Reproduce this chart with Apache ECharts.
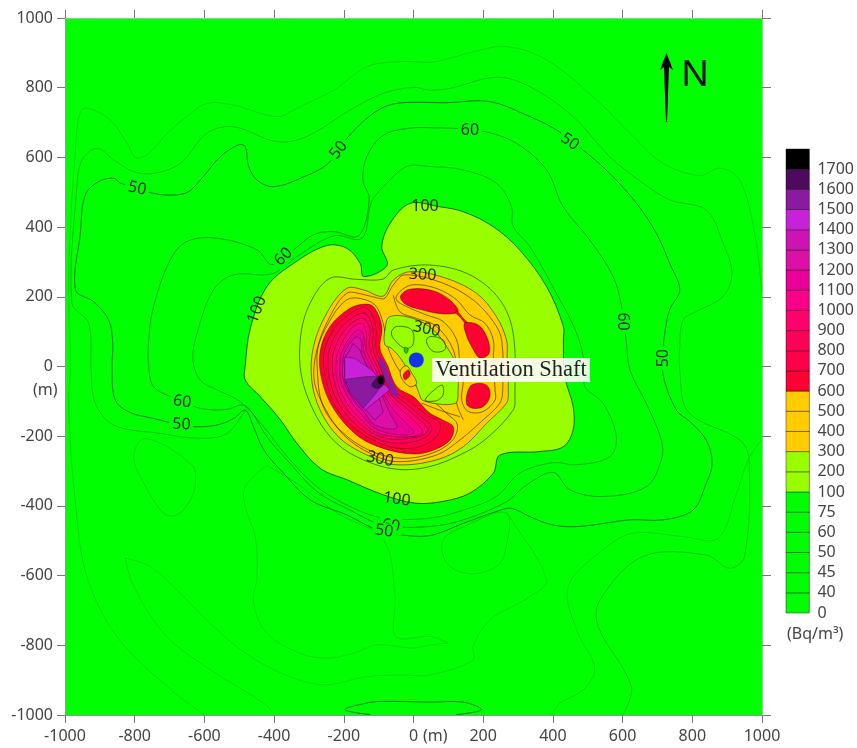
<!DOCTYPE html>
<html>
<head>
<meta charset="utf-8">
<script src="https://cdn.jsdelivr.net/npm/echarts@6/dist/echarts.min.js"></script>
<style>
html,body{margin:0;padding:0;background:#fff;}
#container_radon{width:857px;height:748px;filter:blur(0.35px);}
</style>
</head>
<body>
<div id="container_radon"></div>
<script>
// tick labels of the colour bar, bottom to top (Bq/m3)
var barLabels = ['0','40','45','50','60','75','100','200','300','400','500','600','700','800','900','1000','1100','1200','1300','1400','1500','1600','1700',''];
var barColors = ['#00ff00','#00ff00','#00ff00','#00ff00','#00ff00','#00ff00','#99ff00','#99ff00','#ffcc00','#ffcc00','#ffcc00','#ff0033','#ff0048','#ff0058','#ff006c','#fa0088','#e80099','#dc10a8','#cc14b4','#c822d8','#8a1aa0','#4e0a5e','#000000'];

// contours in metres
var c40a = [[-602,-999],[-707,-918],[-851,-775],[-937,-603],[-970,-392],[-989,-134],[-985,0],[-989,287],[-970,621],[-956,731],[-932,741],[-870,707],[-822,641],[-798,600],[-765,607],[-707,669],[-650,717],[-593,755],[-516,750],[-392,717],[-325,746],[-229,793],[-134,860],[-38,875],[47,873],[104,884],[171,903],[267,918],[382,880],[525,765],[621,669],[716,583],[821,548],[879,569],[936,535],[979,382],[1000,210]];
var c40b = [[998,-211],[960,-268],[927,-364],[874,-493],[774,-488],[630,-478],[544,-526],[444,-631],[468,-756],[520,-866],[487,-928],[420,-966],[396,-1000]];
var c40c = [[-827,-550],[-755,-574],[-679,-641],[-574,-746],[-468,-832],[-344,-894],[-249,-913],[-134,-890],[-38,-885],[48,-885],[171,-842],[171,-803],[219,-727],[334,-660],[382,-612],[276,-431],[267,-421]];
var c40d = [[-827,-550],[-803,-631],[-717,-765],[-612,-851],[-430,-966],[-402,-995]];
var c40e = [[-421,-284],[-483,-345],[-483,-402],[-454,-488],[-449,-603],[-459,-679],[-421,-765],[-325,-823],[-249,-837],[-172,-823],[-105,-799],[0,-808],[48,-799],[100,-794]];
var c40f = [[-421,-284],[-350,-325],[-220,-420],[-86,-498],[-53,-660],[-51,-775],[48,-775],[100,-794]];
var c40g = [[-770,-206],[-803,-259],[-774,-335],[-717,-421],[-679,-426],[-640,-383],[-626,-335],[-636,-282]];
var c40h = [[85,-498],[95,-564],[162,-595],[238,-574],[262,-536],[267,-421],[143,-460]];
var c45 = [[-483,-125],[-535,-192],[-612,-206],[-727,-192],[-860,-168],[-913,-106],[-925,-10],[-932,124],[-980,182],[-966,516],[-951,593],[-908,626],[-860,593],[-803,559],[-746,554],[-669,583],[-593,669],[-516,688],[-392,645],[-306,660],[-182,736],[-86,784],[0,801],[47,793],[104,798],[238,830],[334,803],[458,717],[563,602],[659,526],[735,478],[840,449],[888,354],[914,268],[888,201],[812,158],[774,134],[764,57],[764,-10],[788,-130],[936,-211],[963,-268],[950,-545],[907,-579],[840,-541],[659,-545],[535,-670],[530,-746],[625,-918],[601,-999]];
var c50 = [[-860,540],[-903,531],[-942,492],[-956,382],[-970,220],[-918,186],[-875,134],[-863,67],[-865,0],[-856,-96],[-813,-132],[-746,-149],[-669,-168],[-621,-173],[-564,-168],[-516,-149],[-483,-125],[-459,-173],[-430,-239],[-373,-306],[-296,-383],[-191,-426],[-105,-469],[-38,-483],[48,-485],[143,-450],[238,-416],[281,-407],[334,-431],[401,-455],[477,-459],[621,-440],[716,-440],[802,-412],[840,-335],[857,-278],[840,-211],[793,-158],[754,-125],[716,-24],[716,48],[721,96],[735,163],[764,220],[735,296],[697,382],[640,468],[563,554],[487,621],[410,679],[334,717],[219,760],[95,757],[-48,755],[-115,727],[-191,655],[-244,583],[-325,540],[-402,516],[-449,535],[-473,574],[-483,631],[-502,636],[-554,602],[-612,535],[-650,499],[-707,492],[-755,499],[-841,526]];
var c50b = [[-124,-999],[-197,-985],[-145,-968],[-96,-961],[48,-963],[143,-963],[195,-985],[123,-999]];
var c60 = [[-406,292],[-449,335],[-564,368],[-650,359],[-698,306],[-746,172],[-760,76],[-760,0],[-746,-58],[-698,-86],[-612,-120],[-535,-123],[-492,-110],[-468,-125],[-421,-201],[-354,-278],[-277,-359],[-182,-412],[-86,-455],[48,-459],[143,-440],[267,-388],[324,-340],[401,-304],[449,-354],[544,-373],[668,-345],[711,-268],[711,-211],[668,-106],[621,-10],[611,67],[597,172],[573,258],[506,363],[429,459],[382,564],[296,640],[205,674],[119,683],[47,685],[-10,684],[-86,664],[-134,602],[-145,535],[-127,480],[-158,375],[-229,387],[-287,378],[-344,335]];
var c75 = [[-406,266],[-516,263],[-574,220],[-621,96],[-633,19],[-612,-39],[-564,-67],[-497,-101],[-430,-173],[-363,-258],[-277,-345],[-182,-402],[-86,-435],[48,-435],[143,-412],[238,-373],[305,-306],[401,-276],[468,-282],[563,-259],[582,-201],[544,-106],[492,-58],[492,0],[468,96],[410,210],[334,344],[286,402],[281,459],[238,526],[143,564],[47,574],[-19,574],[-76,526],[-120,473],[-148,368],[-229,375],[-335,315]];
var c100 = [[71,459],[143,444],[229,401],[305,334],[382,229],[430,115],[430,76],[434,-29],[458,-115],[458,-182],[430,-230],[363,-244],[248,-254],[229,-306],[162,-363],[85,-387],[4,-392],[-87,-368],[-191,-325],[-268,-292],[-335,-220],[-382,-153],[-440,-86],[-483,-39],[-483,0],[-468,110],[-421,229],[-344,296],[-249,347],[-191,339],[-153,296],[-143,258],[-76,290],[-91,344],[-67,411],[-10,468]];
var c200 = [[-58,277],[47,291],[162,263],[248,191],[286,95],[291,-86],[286,-125],[210,-206],[143,-249],[47,-287],[-48,-295],[-144,-268],[-221,-220],[-278,-144],[-321,-29],[-324,86],[-297,181],[-240,253],[-163,250],[-87,251]];
var c300 = [[-10,272],[85,256],[181,210],[238,143],[267,76],[269,28],[272,-77],[267,-105],[210,-163],[143,-230],[66,-268],[-48,-282],[-125,-258],[-211,-206],[-268,-125],[-292,-39],[-287,57],[-249,153],[-192,224],[-144,220],[-87,202],[-58,248]];
var c300Hole = [[-68,143],[-1,138],[57,105],[95,57],[124,0],[128,-67],[119,-106],[28,-98],[14,-72],[4,-44],[0,-39],[-34,19],[-63,52],[-82,62],[-82,105]];
var c400 = [[-25,263],[85,239],[171,191],[229,129],[253,76],[256,-67],[248,-105],[200,-153],[133,-211],[66,-254],[-48,-273],[-125,-249],[-201,-196],[-254,-120],[-285,-39],[-276,52],[-240,143],[-192,210],[-149,208],[-101,196],[-82,196],[-58,234]];
var c400In = [[-58,205],[-39,157],[9,138],[66,115],[114,48],[124,-29],[124,-105],[143,-153]];
var c400Se = [[23,-105],[85,-129],[133,-144]];
var c500 = [[-158,196],[-111,177],[-87,124],[-75,59],[-37,-17],[9,-58],[47,-91],[95,-134],[126,-168],[109,-215],[47,-251],[-39,-263],[-130,-239],[-211,-182],[-261,-110],[-276,-10],[-272,62],[-230,148],[-192,191]];
var c500Ne = [[-44,210],[-5,234],[66,224],[124,191],[162,148],[205,124],[229,76],[229,19],[234,-67],[234,-96],[200,-129],[157,-129],[138,-96],[143,-39],[133,9],[124,76],[85,129],[37,148],[-20,172],[-49,191]];
var loop1 = [[-48,115],[-5,105],[-2,62],[-25,52],[-58,81],[-63,100]];
var loop2 = [[47,86],[85,76],[90,48],[57,43],[37,71]];
var loop3 = [[33,-96],[81,-53],[85,-81],[66,-98]];
var spotGreen = [[-25,55],[-15,50],[-20,38],[-26,42]];
var spotOrange = [[-37,-10],[-20,2],[-5,-19],[9,-48],[-10,-58],[-34,-34]];
var spotRed = [[-29,-24],[-15,-10],[-10,-24],[-24,-38]];
var blob1 = [[-37,202],[-10,222],[57,217],[104,191],[128,158],[85,151],[18,164],[-25,180]];
var blobLink = [[126,158],[143,138],[155,126],[150,122],[135,140],[120,155]];
var blob2 = [[147,124],[186,119],[212,81],[217,38],[191,24],[167,57],[150,95]];
var blob3 = [[152,-106],[162,-58],[190,-48],[214,-58],[219,-87],[200,-115],[171,-120]];
var c600 = [[-134,179],[-111,167],[-91,114],[-96,52],[-75,4],[-48,-58],[0,-87],[23,-110],[47,-134],[85,-154],[114,-173],[105,-211],[57,-240],[0,-251],[-87,-235],[-163,-197],[-230,-120],[-263,-39],[-268,42],[-240,114],[-182,167]];
var c700 = [[-134,167],[-108,114],[-108,52],[-87,-2],[-58,-67],[-10,-101],[38,-139],[76,-163],[66,-201],[18,-230],[-39,-235],[-96,-220],[-163,-182],[-221,-120],[-251,-39],[-257,38],[-230,105],[-182,152]];
var c800 = [[-139,152],[-117,109],[-117,52],[-96,-2],[-66,-69],[-20,-108],[28,-149],[52,-173],[42,-197],[0,-216],[-48,-220],[-101,-209],[-158,-173],[-211,-113],[-240,-39],[-244,33],[-221,95],[-178,138]];
var c900 = [[-144,138],[-125,105],[-127,52],[-104,-2],[-72,-72],[-29,-113],[18,-153],[42,-182],[28,-197],[-10,-206],[-58,-209],[-106,-197],[-154,-163],[-201,-108],[-228,-39],[-232,28],[-213,81],[-178,124]];
var c1000 = [[-149,124],[-135,95],[-135,47],[-111,-5],[-79,-72],[-39,-120],[9,-163],[26,-190],[0,-201],[-58,-201],[-111,-187],[-149,-154],[-192,-104],[-219,-39],[-221,23],[-206,66],[-178,109]];
var c1100 = [[-156,105],[-142,85],[-142,42],[-117,-10],[-87,-77],[-53,-130],[-15,-168],[0,-192],[-58,-194],[-111,-177],[-144,-144],[-182,-98],[-209,-39],[-211,19],[-201,52],[-178,90]];
var c1200 = [[-163,85],[-149,71],[-149,33],[-123,-15],[-93,-77],[-68,-134],[-48,-177],[-111,-168],[-139,-134],[-175,-91],[-201,-39],[-203,14],[-197,42],[-178,71]];
var c1300 = [[-173,66],[-154,47],[-130,-10],[-98,-58],[-101,-82],[-87,-130],[-111,-154],[-135,-127],[-168,-87],[-197,-39],[-199,19],[-192,33]];
var c1400 = [[-197,28],[-168,23],[-120,-10],[-101,-34],[-68,-67],[-139,-125],[-177,-82],[-197,-39]];
var c1500 = [[-197,-37],[-135,-29],[-101,-29],[-87,-48],[-111,-82],[-144,-120],[-182,-77]];
var c1500Streak = [[-101,23],[-87,19],[-72,-20],[-44,-82],[-58,-85],[-75,-48]];
var c1600 = [[-120,-53],[-106,-34],[-91,-24],[-82,-39],[-89,-56],[-106,-63]];
var c1700 = [[-103,-39],[-96,-26],[-87,-34],[-87,-48],[-98,-50]];

// contour labels: x, y, text and the angle of the line under them
var contourLabels = [[-793,511,'50'],[-215,621,'50'],[162,677,'60'],[449,645,'50'],[600,129,'60'],[716,24,'50'],[-373,315,'60'],[-664,-101,'60'],[-666,-166,'50'],[-65,-457,'60'],[-84,-472,'50'],[33,459,'100'],[-449,163,'100'],[26,263,'300'],[38,107,'300'],[-96,-266,'300'],[-48,-381,'100']];
var contourLabelAngles = [-12,52,0,-35,-90,90,45,-8,-3,-8,-8,0,70,-3,-12,-12,-8];
var shaftPoint = [[8,19]];
var axisTicks = [-1000,1000,200];

var GREEN = barColors[0], LIME = barColors[6], AMBER = barColors[8];
// draw order, bottom to top
var layers = [
	{p:c40a,a:0.16,open:1},{p:c40b,a:0.16,open:1},{p:c40c,a:0.14,open:1},{p:c40d,a:0.14,open:1},{p:c40e,a:0.14,open:1},{p:c40f,a:0.14,open:1},{p:c40g,a:0.16},{p:c40h,a:0.16},
	{p:c45,a:0.24,open:1},{p:c50,a:0.52},{p:c50b,a:0.5,open:1},{p:c60,a:0.38},{p:c75,a:0.3},
	{p:c100,f:LIME,a:0.6},{p:c200,a:0.5},
	{p:c300,f:AMBER,a:0.5},{p:c400,a:0.5},{p:c500,a:0.5},{p:c500Ne,a:0.5},{p:c400In,a:0.5,open:1},{p:c400Se,a:0.5,open:1},
	{p:c300Hole,f:LIME,a:0.5},{p:loop1,a:0.55},{p:loop2,a:0.55},{p:loop3,a:0.55},
	{p:spotGreen,f:'#22cc00',a:0.4},{p:spotOrange,f:AMBER,a:0.5},{p:spotRed,f:barColors[11],a:0.4},
	{p:blob1,f:barColors[11],a:0.4},{p:blobLink,f:barColors[11],a:0.3},{p:blob2,f:barColors[11],a:0.4},{p:blob3,f:barColors[11],a:0.4},
	{p:c600,f:barColors[11],a:0.4},{p:c700,f:barColors[12],a:0.35},{p:c800,f:barColors[13],a:0.35},{p:c900,f:barColors[14],a:0.35},{p:c1000,f:barColors[15],a:0.35},
	{p:c1100,f:barColors[16],a:0.35},{p:c1200,f:barColors[17],a:0.35},{p:c1300,f:barColors[18],a:0.35,hard:1},{p:c1400,f:barColors[19],a:0.3,hard:1},
	{p:c1500,f:barColors[20],a:0.25,hard:1},{p:c1500Streak,f:barColors[20],a:0},{p:c1600,f:barColors[21],a:0.2},{p:c1700,f:barColors[22],a:0}
];

var myChart = echarts.init(document.getElementById('container_radon'));
var labelStyle = {color:'#444',fontFamily:'Noto Sans',fontSize:16,formatter:function(v){ return String(v); }};

function renderLayer(params, api){
	var l = layers[params.dataIndex];
	var pts = l.p.map(function(d){ return api.coord(d); });
	var lineStyle = {fill:l.f || 'none',stroke:l.a ? 'rgba(0,0,0,'+l.a+')' : 'none',lineWidth:1};
	return {
		type:l.open ? 'polyline' : 'polygon',
		shape:{points:pts,smooth:l.hard ? 0 : 0.35},
		style:lineStyle
	};
}
function renderContourLabel(params, api){
	var d = contourLabels[params.dataIndex];
	var pos = api.coord(d);
	var onGreen = d[2] != '100' && d[2] != '300';
	return {
		type:'text',
		x:pos[0],y:pos[1],
		rotation:contourLabelAngles[params.dataIndex]*Math.PI/180,
		style:{
			text:d[2],x:0,y:0,align:'center',verticalAlign:'middle',
			fill:'#1c2a1c',font:'16px "Noto Sans"',
			backgroundColor:onGreen ? GREEN : 'transparent',padding:[0,3]
		}
	};
}
function renderBarCell(params, api){
	var i = params.dataIndex;
	var a = api.coord([0,i+1]), b = api.coord([1,i]);
	return {
		type:'rect',
		shape:{x:a[0],y:a[1],width:b[0]-a[0],height:b[1]-a[1]},
		style:{fill:barColors[i],stroke:'rgba(0,0,0,0.4)',lineWidth:1}
	};
}

var option = {
	animation:false,
	backgroundColor:'#fff',
	grid:[
		{left:65,top:18,width:697,height:697,show:true,backgroundColor:GREEN,borderWidth:0},
		{left:786,top:149,width:29,height:464}
	],
	xAxis:[
		{type:'value',gridIndex:0,min:axisTicks[0],max:axisTicks[1],interval:axisTicks[2],position:'bottom',
			axisLine:{onZero:false,lineStyle:{color:'#8a9a9a'}},axisTick:{show:true,length:8,lineStyle:{color:'#777'}},
			splitLine:{show:false},axisLabel:Object.assign({margin:13,showMinLabel:true,showMaxLabel:true},labelStyle)},
		{type:'value',gridIndex:0,min:axisTicks[0],max:axisTicks[1],interval:axisTicks[2],position:'top',
			axisLine:{onZero:false,lineStyle:{color:'#8fd08f'}},axisTick:{show:true,length:8,lineStyle:{color:'#777'}},
			splitLine:{show:false},axisLabel:{show:false}},
		{type:'value',gridIndex:1,min:0,max:1,show:false}
	],
	yAxis:[
		{type:'value',gridIndex:0,min:axisTicks[0],max:axisTicks[1],interval:axisTicks[2],position:'left',
			axisLine:{onZero:false,lineStyle:{color:'#8a9a9a'}},axisTick:{show:true,length:8,lineStyle:{color:'#777'}},
			splitLine:{show:false},axisLabel:Object.assign({margin:12,showMinLabel:true,showMaxLabel:true},labelStyle)},
		{type:'value',gridIndex:0,min:axisTicks[0],max:axisTicks[1],interval:axisTicks[2],position:'right',
			axisLine:{onZero:false,lineStyle:{color:'#8fd08f'}},axisTick:{show:true,length:9,lineStyle:{color:'#777'}},
			splitLine:{show:false},axisLabel:{show:false}},
		{type:'value',gridIndex:1,min:0,max:barLabels.length-1,interval:1,position:'right',
			axisLine:{show:false},axisTick:{show:false},splitLine:{show:false},
			axisLabel:Object.assign({},labelStyle,{margin:8,showMinLabel:true,showMaxLabel:true,formatter:function(v){ return barLabels[v]; }})}
	],
	series:[
		{type:'custom',name:'contours',xAxisIndex:0,yAxisIndex:0,clip:true,silent:true,renderItem:renderLayer,
			data:layers.map(function(l,i){ return [i]; }),z:2},
		{type:'custom',name:'contour labels',xAxisIndex:0,yAxisIndex:0,silent:true,renderItem:renderContourLabel,
			data:contourLabels.map(function(d){ return [d[0],d[1]]; }),z:3},
		{type:'scatter',name:'Ventilation Shaft',xAxisIndex:0,yAxisIndex:0,data:shaftPoint,symbolSize:15,
			itemStyle:{color:'#1432f0',opacity:1},z:4},
		{type:'custom',name:'colour bar',xAxisIndex:2,yAxisIndex:2,silent:true,renderItem:renderBarCell,
			data:barColors.map(function(c,i){ return [0,i]; }),z:2}
	],
	graphic:[
		{type:'text',z:10,x:432,y:358,style:{text:'Ventilation Shaft',font:'22.5px "Liberation Serif"',fill:'#222',backgroundColor:'rgba(255,255,255,0.88)',padding:[0,3,0,3],lineHeight:24,height:24,verticalAlign:'top'}},
		{type:'polygon',z:10,shape:{points:[[666.5,53],[673,70],[669,67],[667,122],[666,122],[664,67],[660,70]]},style:{fill:'#000'}},
		{type:'text',z:10,x:681,y:57,style:{text:'N',font:'37px "Noto Sans"',fill:'#111'}},
		{type:'text',z:10,x:423,y:728,style:{text:'(m)',font:'16px "Noto Sans"',fill:'#444'}},
		{type:'text',z:10,x:33,y:382,style:{text:'(m)',font:'16px "Noto Sans"',fill:'#444'}},
		{type:'text',z:10,x:787,y:626,style:{text:'(Bq/m\u00b3)',font:'16px "Noto Sans"',fill:'#444'}}
	]
};
myChart.setOption(option);
</script>
</body>
</html>
